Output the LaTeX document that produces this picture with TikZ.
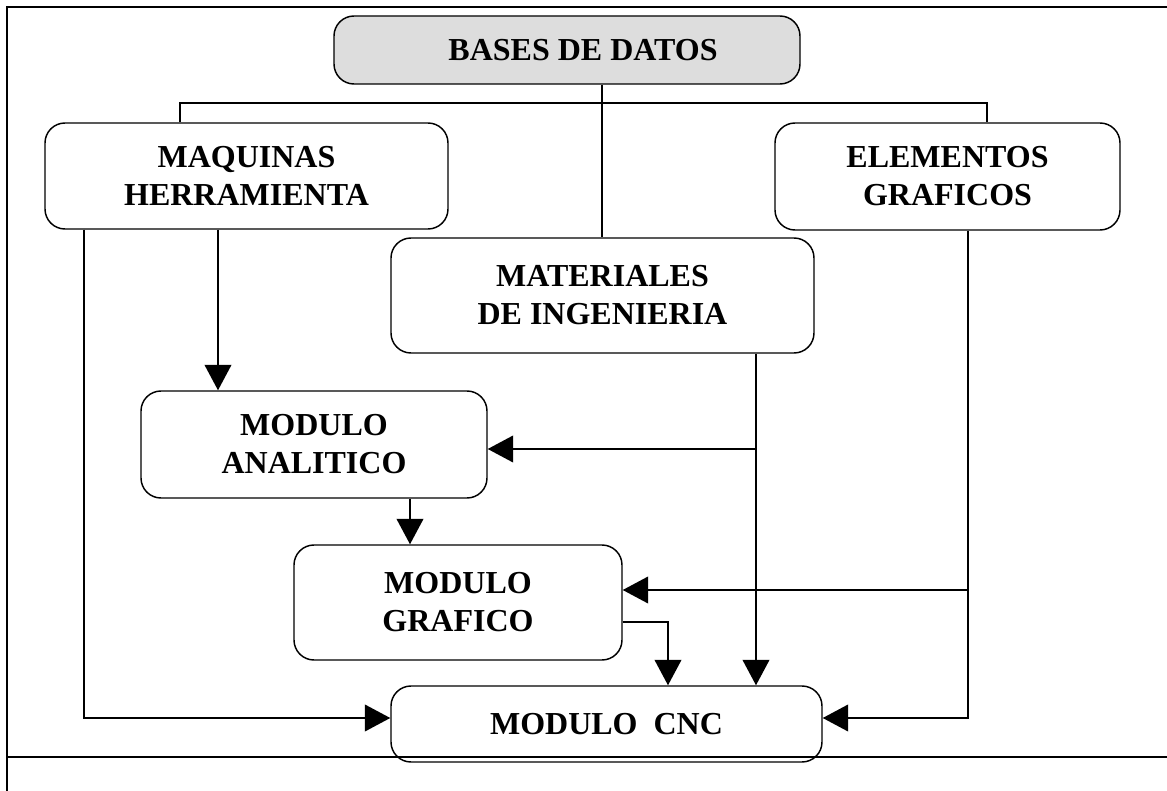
\documentclass[tikz,border=0pt]{standalone}
\usepackage{fontspec}
\setmainfont{Liberation Serif}
\usetikzlibrary{arrows.meta}
\begin{document}
\begin{tikzpicture}[x=0.75pt,y=-0.75pt,
  box/.style={draw,line width=1.1pt,rounded corners=15pt,align=center,inner sep=0pt,
    font=\bfseries\fontsize{24}{28.5}\selectfont},
  line/.style={line width=1.1pt},
  arr/.style={line width=1.1pt,-{Triangle[length=19pt,width=20pt]}},
  frame/.style={line width=1.5pt}]
\useasboundingbox (0,0) rectangle (1167,791);
% frame
\draw[frame] (7,791) -- (7,7) -- (1167,7);
\draw[line] (7,757) -- (1167,757);
% nodes
\node[box,fill={rgb,255:red,221;green,221;blue,221},minimum width=466*0.75pt,minimum height=68*0.75pt] (bases) at (567,50) {\hspace*{24pt}BASES DE DATOS};
\node[box,minimum width=403*0.75pt,minimum height=106*0.75pt] (maq) at (246.5,176) {MAQUINAS\\HERRAMIENTA};
\node[box,minimum width=345*0.75pt,minimum height=107*0.75pt] (ele) at (947.5,176.5) {ELEMENTOS\\GRAFICOS};
\node[box,minimum width=423*0.75pt,minimum height=115*0.75pt] (mat) at (602.5,295.5) {MATERIALES\\DE INGENIERIA};
\node[box,minimum width=346*0.75pt,minimum height=107*0.75pt] (ana) at (314,444.5) {MODULO\\ANALITICO};
\node[box,minimum width=328*0.75pt,minimum height=115*0.75pt] (gra) at (458,602.5) {MODULO\\GRAFICO};
\node[box,minimum width=431*0.75pt,minimum height=76*0.75pt] (cnc) at (606.5,724) {MODULO~~CNC};
% bus from bases
\draw[line] (602,0 |- bases.south) -- (602,0 |- mat.north);
\draw[line] (180,0 |- maq.north) -- (180,103) -- (987,103) -- (987,0 |- ele.north);
% maquinas
\draw[arr] (84,0 |- maq.south) -- (84,718) -- (cnc.west |- 0,718);
\draw[arr] (218,0 |- maq.south) -- (218,0 |- ana.north);
% materiales
\draw[arr] (756,0 |- mat.south) -- (756,0 |- cnc.north);
\draw[arr] (756,449) -- (ana.east |- 0,449);
% elementos
\draw[arr] (968,0 |- ele.south) -- (968,718) -- (cnc.east |- 0,718);
\draw[arr] (968,590) -- (gra.east |- 0,590);
% analitico -> grafico
\draw[arr] (410,0 |- ana.south) -- (410,0 |- gra.north);
% grafico -> cnc
\draw[arr] (gra.east |- 0,622) -- (668,622) -- (668,0 |- cnc.north);
\end{tikzpicture}
\end{document}
